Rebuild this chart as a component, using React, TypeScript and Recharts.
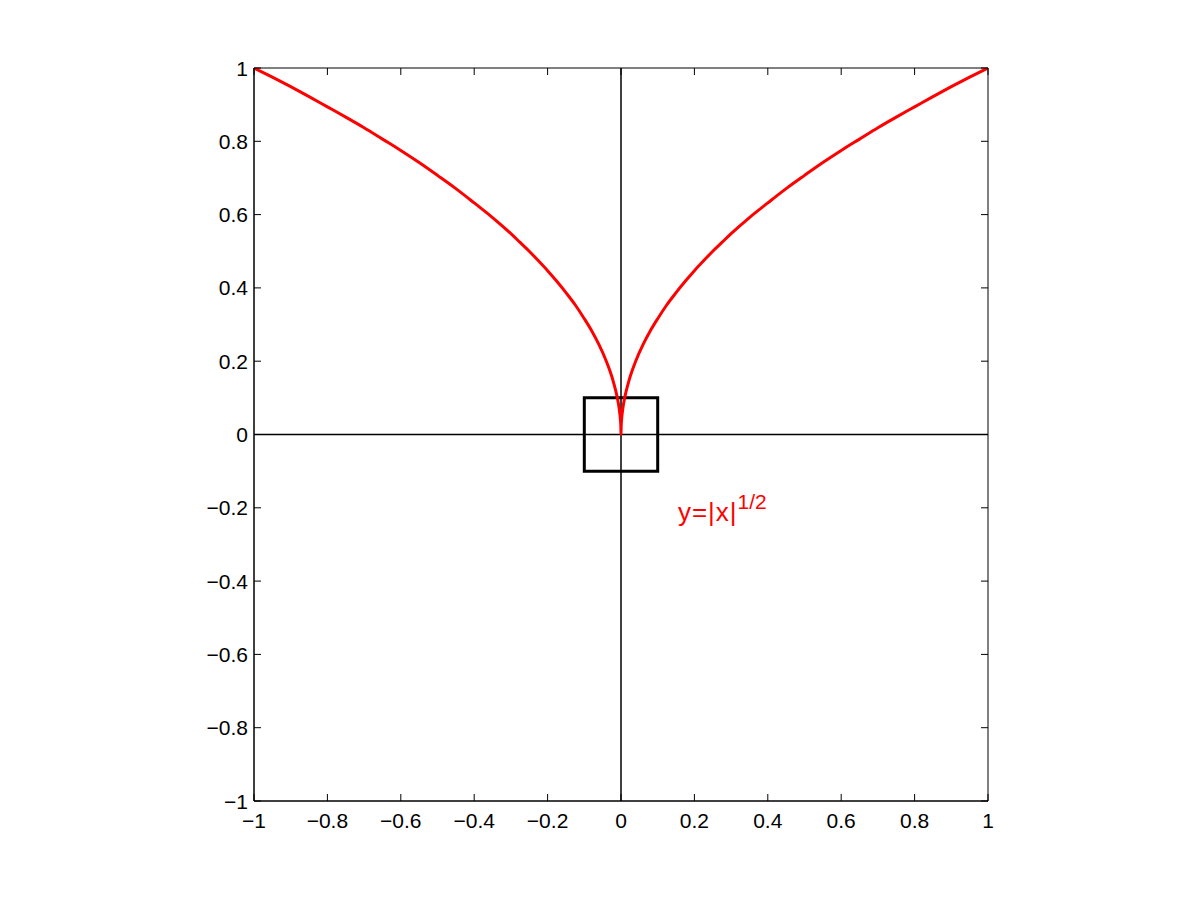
import { LineChart, Line, XAxis, YAxis, ReferenceLine, ReferenceArea, ReferenceDot } from "recharts"

// curve y = |x|^(1/2)
const curveX = [
  -1, -0.95, -0.9, -0.85, -0.8, -0.75, -0.7, -0.65, -0.6, -0.55, -0.5, -0.45, -0.4, -0.35, -0.3, -0.275, -0.25, -0.225,
  -0.2, -0.175, -0.15, -0.125, -0.1, -0.08, -0.06, -0.04, -0.03, -0.02, -0.01, -0.005, -0.002, -0.0005, 0,
  0.0005, 0.002, 0.005, 0.01, 0.02, 0.03, 0.04, 0.06, 0.08, 0.1, 0.125, 0.15, 0.175, 0.2, 0.225, 0.25, 0.275,
  0.3, 0.35, 0.4, 0.45, 0.5, 0.55, 0.6, 0.65, 0.7, 0.75, 0.8, 0.85, 0.9, 0.95, 1,
]
const curveY = [
  1, 0.975, 0.949, 0.922, 0.894, 0.866, 0.837, 0.806, 0.775, 0.742, 0.707, 0.671, 0.632, 0.592, 0.548, 0.524, 0.5, 0.474,
  0.447, 0.418, 0.387, 0.354, 0.316, 0.283, 0.245, 0.2, 0.173, 0.141, 0.1, 0.071, 0.045, 0.022, 0,
  0.022, 0.045, 0.071, 0.1, 0.141, 0.173, 0.2, 0.245, 0.283, 0.316, 0.354, 0.387, 0.418, 0.447, 0.474, 0.5, 0.524,
  0.548, 0.592, 0.632, 0.671, 0.707, 0.742, 0.775, 0.806, 0.837, 0.866, 0.894, 0.922, 0.949, 0.975, 1,
]

const xTicks = [-1, -0.8, -0.6, -0.4, -0.2, 0, 0.2, 0.4, 0.6, 0.8, 1]
const yTicks = [-1, -0.8, -0.6, -0.4, -0.2, 0, 0.2, 0.4, 0.6, 0.8, 1]
const boxRange = [-0.1, 0.1]
const labelPos = { x: 0.155, y: -0.236 }

const data = curveX.map((x, i) => ({ x, y: curveY[i] }))

// plot frame in pixels
const PLOT = { left: 254, right: 988, top: 68, bottom: 801 }
const TICK_LEN = 7

const fmt = (v: number) => String(v).replace("-", "\u2212")
const font = "'Liberation Sans', Arial, sans-serif"

function XTick(props: any) {
  const { x, payload } = props
  const c = payload.coordinate
  return (
    <g>
      <line x1={c} x2={c} y1={PLOT.bottom} y2={PLOT.bottom - TICK_LEN} stroke="#000" />
      <line x1={c} x2={c} y1={PLOT.top} y2={PLOT.top + TICK_LEN} stroke="#000" />
      <text x={x} y={PLOT.bottom + 27} textAnchor="middle" fontSize={21} fontFamily={font} fill="#000">
        {fmt(payload.value)}
      </text>
    </g>
  )
}

function YTick(props: any) {
  const { y, payload } = props
  const c = payload.coordinate
  return (
    <g>
      <line x1={PLOT.left} x2={PLOT.left + TICK_LEN} y1={c} y2={c} stroke="#000" />
      <line x1={PLOT.right} x2={PLOT.right - TICK_LEN} y1={c} y2={c} stroke="#000" />
      <text x={PLOT.left - 6} y={y + 7.5} textAnchor="end" fontSize={21} fontFamily={font} fill="#000">
        {fmt(payload.value)}
      </text>
    </g>
  )
}

function FormulaLabel(props: any) {
  const { cx, cy } = props
  return (
    <text x={cx} y={cy} fill="#ff0000" fontSize={26} fontFamily={font} letterSpacing={1}>
      y=|x|
      <tspan dy={-12} fontSize={21} letterSpacing={0}>
        1/2
      </tspan>
    </text>
  )
}

export default function App() {
  return (
    <div style={{ position: "absolute", left: 0, top: 0, width: 1201, height: 901, background: "#fff" }}>
      <LineChart
        width={1201}
        height={901}
        data={data}
        margin={{ top: 68, right: 213, left: 194, bottom: 70 }}
      >
        <XAxis
          dataKey="x"
          type="number"
          domain={[-1, 1]}
          ticks={xTicks}
          allowDataOverflow
          tick={XTick}
          tickLine={false}
          tickSize={0}
          tickMargin={0}
          height={30}
          stroke="#000"
          interval={0}
        />
        <YAxis
          dataKey="y"
          type="number"
          domain={[-1, 1]}
          ticks={yTicks}
          allowDataOverflow
          tick={YTick}
          tickLine={false}
          tickSize={0}
          tickMargin={6}
          width={60}
          stroke="#000"
          interval={0}
        />
        <ReferenceArea x1={-1} x2={1} y1={-1} y2={1} fill="none" fillOpacity={0} stroke="#000" strokeWidth={1} />
        <ReferenceLine x={0} stroke="#000" strokeWidth={1.5} />
        <ReferenceLine y={0} stroke="#000" strokeWidth={1.5} />
        <Line
          dataKey="y"
          type="monotone"
          stroke="#ff0000"
          strokeWidth={3}
          dot={false}
          isAnimationActive={false}
        />
        <ReferenceArea
          x1={boxRange[0]}
          x2={boxRange[1]}
          y1={boxRange[0]}
          y2={boxRange[1]}
          fill="none"
          fillOpacity={0}
          stroke="#000"
          strokeWidth={3}
          ifOverflow="visible"
        />
        <ReferenceDot x={labelPos.x} y={labelPos.y} r={0} shape={FormulaLabel} />
      </LineChart>
    </div>
  )
}
